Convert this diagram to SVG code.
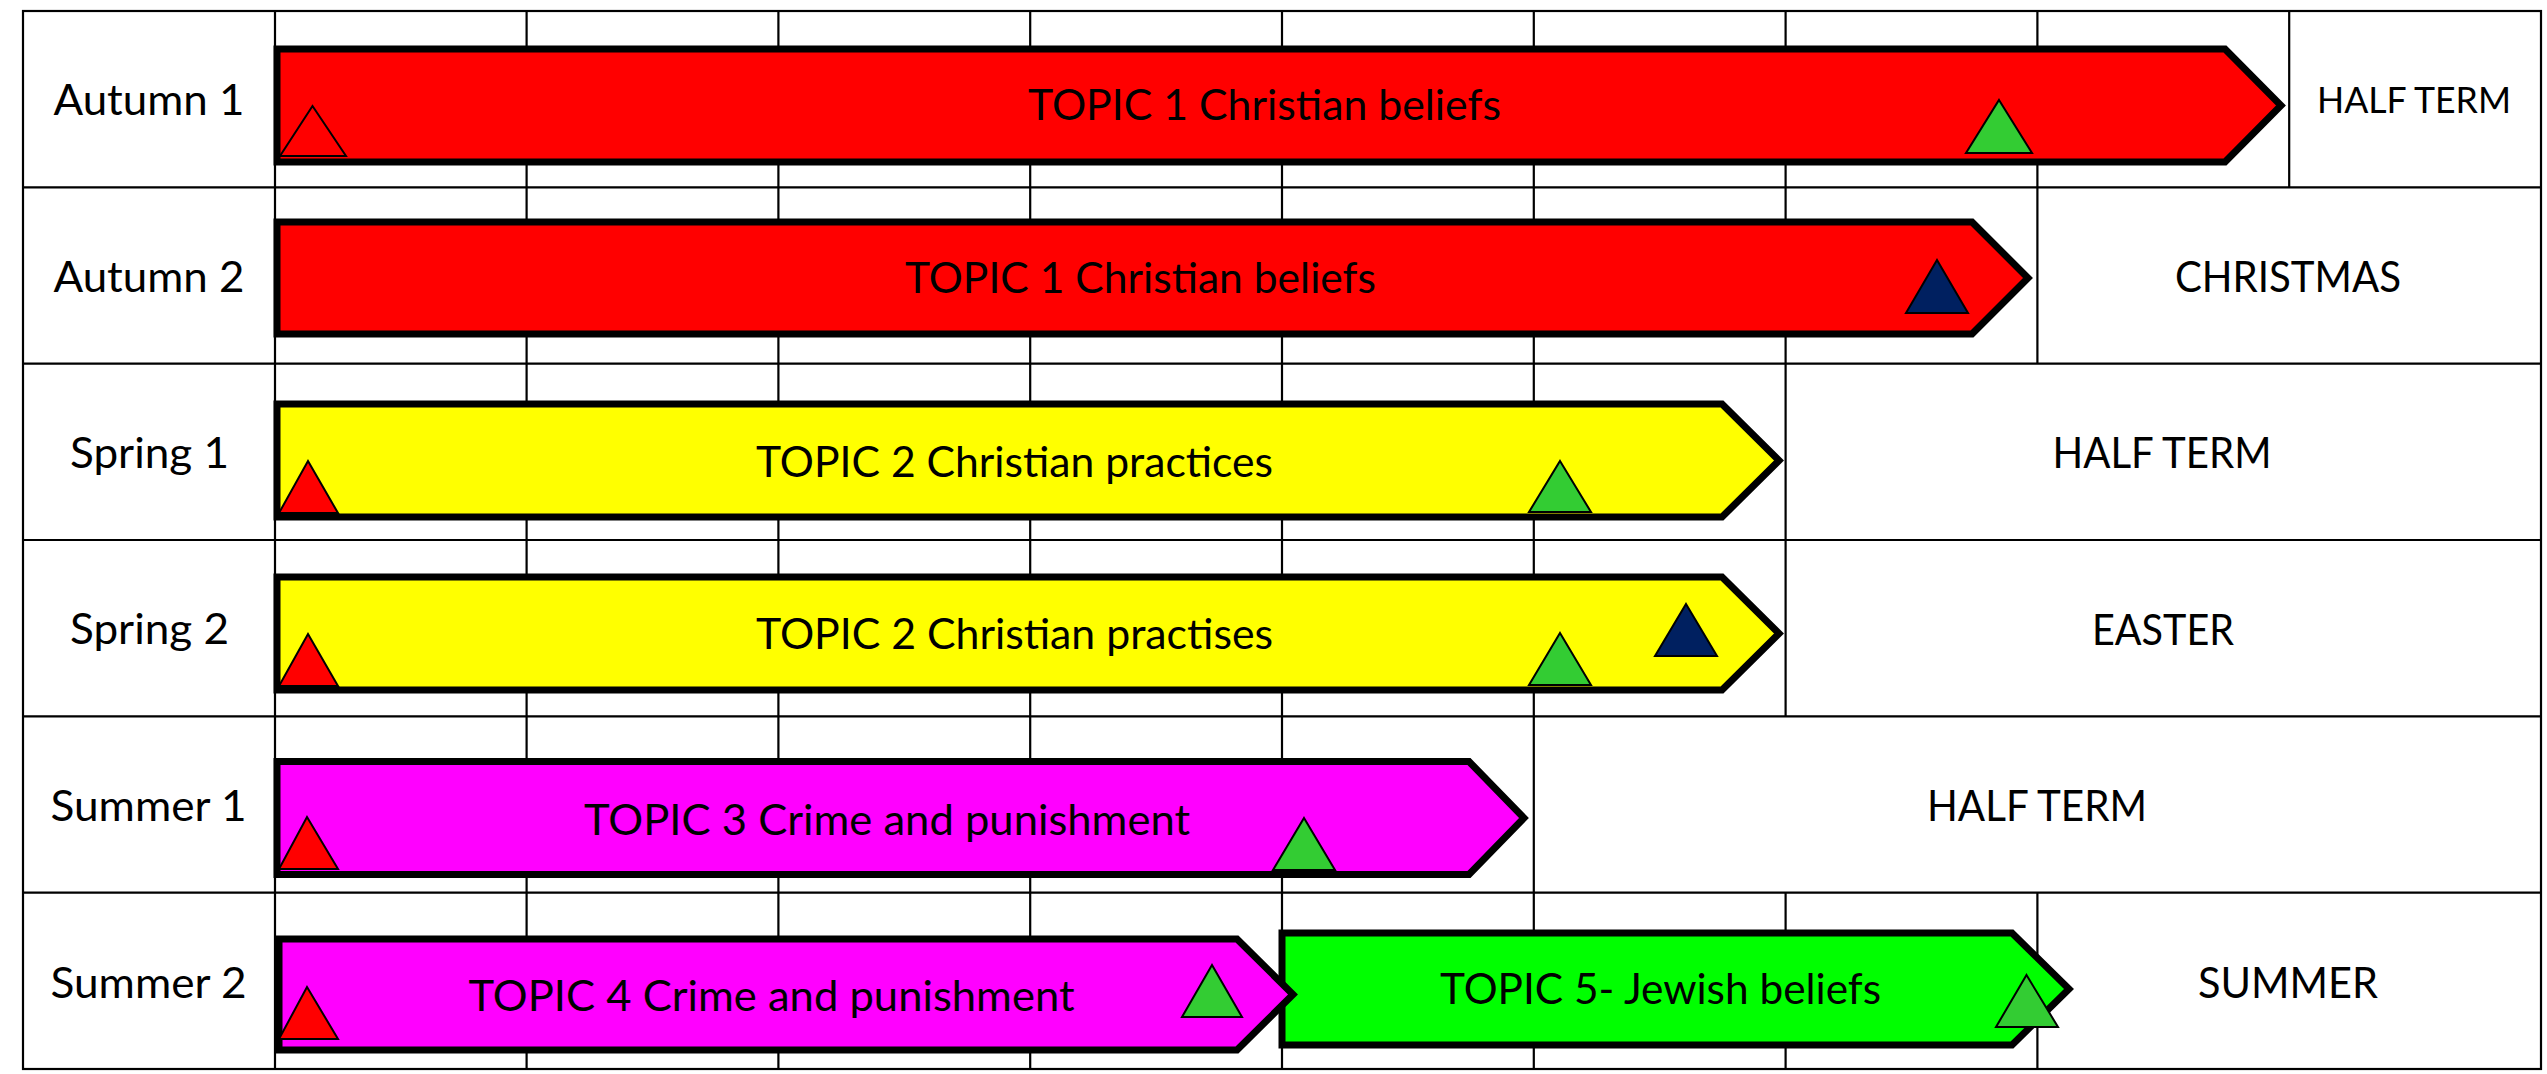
<svg xmlns="http://www.w3.org/2000/svg" width="2547" height="1074" viewBox="0 0 2547 1074">
<style>
.g{stroke:#000;stroke-width:2.2;fill:none}
.bar{stroke:#000;stroke-width:7;stroke-linejoin:miter;stroke-miterlimit:10}
.tri{stroke:#000;stroke-width:2;stroke-linejoin:miter}
.t{font-family:Lato,"Open Sans","Liberation Sans",sans-serif;font-size:42px;fill:#000;text-anchor:middle}
.red{fill:#FF0000}.yel{fill:#FFFF00}.mag{fill:#FF00FF}.grn{fill:#00FF00}
.tg{fill:#33CC33}.tn{fill:#002060}.tr{fill:#FF0000}
</style>
<rect x="0" y="0" width="2547" height="1074" fill="#fff"/>
<g id="grid">
<rect class="g" x="23" y="11" width="2518" height="1058"/>
<path class="g" d="M23,187.3H2541M23,363.7H2541M23,540H2541M23,716.3H2541M23,892.7H2541M275,11V1069"/>
<path class="g" d="M526.6,11V187.3M778.4,11V187.3M1030.2,11V187.3M1282,11V187.3M1533.8,11V187.3M1785.6,11V187.3M2037.4,11V187.3M2289.2,11V187.3"/>
<path class="g" d="M526.6,187.3V363.7M778.4,187.3V363.7M1030.2,187.3V363.7M1282,187.3V363.7M1533.8,187.3V363.7M1785.6,187.3V363.7M2037.4,187.3V363.7"/>
<path class="g" d="M526.6,363.7V716.3M778.4,363.7V716.3M1030.2,363.7V716.3M1282,363.7V716.3M1533.8,363.7V716.3M1785.6,363.7V716.3"/>
<path class="g" d="M526.6,716.3V892.7M778.4,716.3V892.7M1030.2,716.3V892.7M1282,716.3V892.7M1533.8,716.3V892.7"/>
<path class="g" d="M526.6,892.7V1069M778.4,892.7V1069M1030.2,892.7V1069M1282,892.7V1069M1533.8,892.7V1069M1785.6,892.7V1069M2037.4,892.7V1069"/>
</g>
<g id="labels">
<text class="t" x="149" y="115" textLength="191" lengthAdjust="spacingAndGlyphs">Autumn 1</text>
<text class="t" x="149" y="292" textLength="191" lengthAdjust="spacingAndGlyphs">Autumn 2</text>
<text class="t" x="149.5" y="468" textLength="159" lengthAdjust="spacingAndGlyphs">Spring 1</text>
<text class="t" x="149.5" y="644" textLength="159" lengthAdjust="spacingAndGlyphs">Spring 2</text>
<text class="t" x="148.5" y="821" textLength="196" lengthAdjust="spacingAndGlyphs">Summer 1</text>
<text class="t" x="148.5" y="998" textLength="196" lengthAdjust="spacingAndGlyphs">Summer 2</text>
</g>
<g id="holidays">
<text class="t" x="2414" y="113" style="font-size:37px" textLength="194" lengthAdjust="spacingAndGlyphs">HALF TERM</text>
<text class="t" x="2288" y="292" textLength="226" lengthAdjust="spacingAndGlyphs">CHRISTMAS</text>
<text class="t" x="2162" y="468" textLength="219" lengthAdjust="spacingAndGlyphs">HALF TERM</text>
<text class="t" x="2163" y="645" textLength="142" lengthAdjust="spacingAndGlyphs">EASTER</text>
<text class="t" x="2037" y="821" textLength="220" lengthAdjust="spacingAndGlyphs">HALF TERM</text>
<text class="t" x="2288" y="998" textLength="180" lengthAdjust="spacingAndGlyphs">SUMMER</text>
</g>
<g id="topic1-autumn1">
<path class="bar red" d="M277,49H2225L2281,105.5L2225,162H277Z"/>
<text class="t" x="1264.5" y="120" textLength="473" lengthAdjust="spacingAndGlyphs">TOPIC 1 Christian beliefs</text>
<polygon class="tri tr" points="312.5,106 346,156 280,156"/>
<polygon class="tri tg" points="1999,100 2032,153 1966,153"/>
</g>
<g id="topic1-autumn2">
<path class="bar red" d="M277,222H1972L2028,278L1972,334H277Z"/>
<text class="t" x="1140.5" y="293" textLength="471" lengthAdjust="spacingAndGlyphs">TOPIC 1 Christian beliefs</text>
<polygon class="tri tn" points="1937,260 1968,313 1906,313"/>
</g>
<g id="topic2-spring1">
<path class="bar yel" d="M277,404H1722L1779,460.5L1722,517H277Z"/>
<text class="t" x="1014.5" y="477" textLength="517" lengthAdjust="spacingAndGlyphs">TOPIC 2 Christian practices</text>
<polygon class="tri tr" points="308,461 338,513 279,513"/>
<polygon class="tri tg" points="1560,461 1591,512 1529,512"/>
</g>
<g id="topic2-spring2">
<path class="bar yel" d="M277,577H1722L1779,633.5L1722,690H277Z"/>
<text class="t" x="1014.5" y="649" textLength="517" lengthAdjust="spacingAndGlyphs">TOPIC 2 Christian practises</text>
<polygon class="tri tr" points="308,634 338,686 279,686"/>
<polygon class="tri tg" points="1560,633 1591,685 1529,685"/>
<polygon class="tri tn" points="1686,604 1717,656 1655,656"/>
</g>
<g id="topic3-summer1">
<path class="bar mag" d="M277,761.5H1469L1524,818L1469,874.5H277Z"/>
<text class="t" x="887" y="835" textLength="606" lengthAdjust="spacingAndGlyphs">TOPIC 3 Crime and punishment</text>
<polygon class="tri tr" points="307,817 338,869 279,869"/>
<polygon class="tri tg" points="1304,818 1335,870 1273,870"/>
</g>
<g id="topic5-summer2">
<path class="bar grn" d="M1282,933H2012L2069,989L2012,1045H1282Z"/>
<text class="t" x="1660.5" y="1004" textLength="441" lengthAdjust="spacingAndGlyphs">TOPIC 5- Jewish beliefs</text>
<polygon class="tri tg" points="2026.5,975 2058,1027 1996,1027"/>
</g>
<g id="topic4-summer2">
<path class="bar mag" d="M279,939H1237L1293,994.5L1237,1050H279Z"/>
<text class="t" x="771.5" y="1011" textLength="606" lengthAdjust="spacingAndGlyphs">TOPIC 4 Crime and punishment</text>
<polygon class="tri tr" points="307,987 338,1039 279,1039"/>
<polygon class="tri tg" points="1212,965 1242,1017 1182,1017"/>
</g>
<g id="connectors"></g>
</svg>
